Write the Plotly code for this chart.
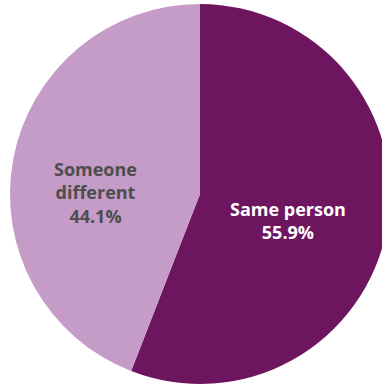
import plotly.graph_objects as go

labels = ["Same person", "Someone<br>different"]
values = [55.9, 44.1]
colors = ["#6E1560", "#C59BC7"]
text_colors = ["#FFFFFF", "#4D4D4D"]
label_pos = [(0.7316, 0.430), (0.2237, 0.503)]

fig = go.Figure(go.Pie(
    labels=labels,
    values=values,
    sort=False,
    direction="clockwise",
    rotation=0,
    marker=dict(colors=colors, line=dict(width=0)),
    textinfo="none",
    hoverinfo="skip",
    showlegend=False,
))

for lab, val, col, (x, y) in zip(labels, values, text_colors, label_pos):
    fig.add_annotation(
        x=x, y=y, xref="paper", yref="paper",
        xanchor="center", yanchor="middle",
        text=f"<b>{lab}<br>{val:.1f}%</b>",
        showarrow=False,
        font=dict(family="Open Sans", size=18, color=col),
    )

fig.update_layout(
    width=400,
    height=388,
    margin=dict(l=10, r=10, t=4, b=4),
    paper_bgcolor="white",
    plot_bgcolor="white",
)

fig.write_html("out.html", config={"displayModeBar": False},
               post_script="document.body.style.overflow='hidden';document.body.style.margin='0';")
